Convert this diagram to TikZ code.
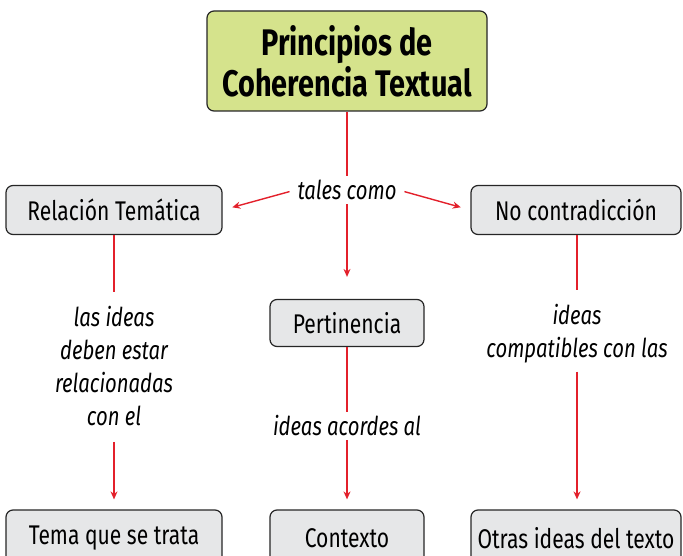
\documentclass[tikz,border=0pt]{standalone}
\usepackage{fontspec}
\setmainfont[FakeStretch=0.78]{Fira Sans}
\usetikzlibrary{arrows.meta}
\definecolor{titlegreen}{HTML}{D5E38C}
\definecolor{boxgray}{HTML}{E6E7E8}
\definecolor{linkred}{HTML}{E3202B}
\tikzset{
	box/.style={draw=black!85, fill=boxgray, rounded corners=7pt, line width=1.2pt, inner sep=0pt},
	link/.style={draw=linkred, line width=1.4pt},
	arrow/.style={link, -{Stealth[length=8pt,width=7pt]}},
	label/.style={font=\fontsize{26}{33}\selectfont\itshape, align=center, inner sep=2pt}
}
\begin{document}
\begin{tikzpicture}[x=1pt, y=-1pt, font=\fontsize{27}{30}\selectfont]
	\useasboundingbox (0,0) rectangle (683,556);
	\clip (0,0) rectangle (683,556);
	%boxes
	\node[box, fill=titlegreen, minimum width=280pt, minimum height=100pt, align=center,
		font=\fontsize{37}{41}\selectfont\bfseries] (title) at (347,61)
		{Principios de\\Coherencia Textual};
	\node[box, minimum width=216pt, minimum height=49pt] (relacion) at (114,210) {Relación Temática};
	\node[box, minimum width=210pt, minimum height=49pt] (nocontra) at (576,210) {No contradicción};
	\node[box, minimum width=154pt, minimum height=47pt] (pertinencia) at (347,323) {Pertinencia};
	\node[box, minimum width=216pt, minimum height=56pt] (tema) at (114,538) {Tema que se trata};
	\node[box, minimum width=154pt, minimum height=56pt] (contexto) at (347,538) {Contexto};
	\node[box, minimum width=210pt, minimum height=56pt] (otras) at (576,538) {Otras ideas del texto};
	%labels
	\node[label] (tales) at (347,190) {tales como};
	\node[label] (lblrel) at (114,366) {las ideas\\deben estar\\relacionadas\\con el};
	\node[label] (lblper) at (347,426) {ideas acordes al};
	\node[label] (lblno) at (577,334) {ideas\\compatibles con las};
	%connectors
	\draw[link, shorten >=2pt] (title.south) -- (tales.north);
	\draw[arrow, shorten <=6pt, shorten >=10pt] (tales.west) -- (relacion.east);
	\draw[arrow, shorten <=6pt, shorten >=10pt] (tales.east) -- (nocontra.west);
	\draw[arrow, shorten <=2pt, shorten >=22pt] (tales.south) -- (pertinencia.north);
	\draw[link, shorten >=12pt] (relacion.south) -- (lblrel.north);
	\draw[arrow, shorten <=14pt, shorten >=10pt] (lblrel.south) -- (tema.north);
	\draw[link, shorten >=2pt] (pertinencia.south) -- (lblper.north);
	\draw[arrow, shorten <=2pt, shorten >=10pt] (lblper.south) -- (contexto.north);
	\draw[link, shorten >=12pt] (nocontra.south -| lblno) -- (lblno.north);
	\draw[arrow, shorten <=6pt, shorten >=10pt] (lblno.south) -- (otras.north -| lblno);
\end{tikzpicture}
\end{document}
